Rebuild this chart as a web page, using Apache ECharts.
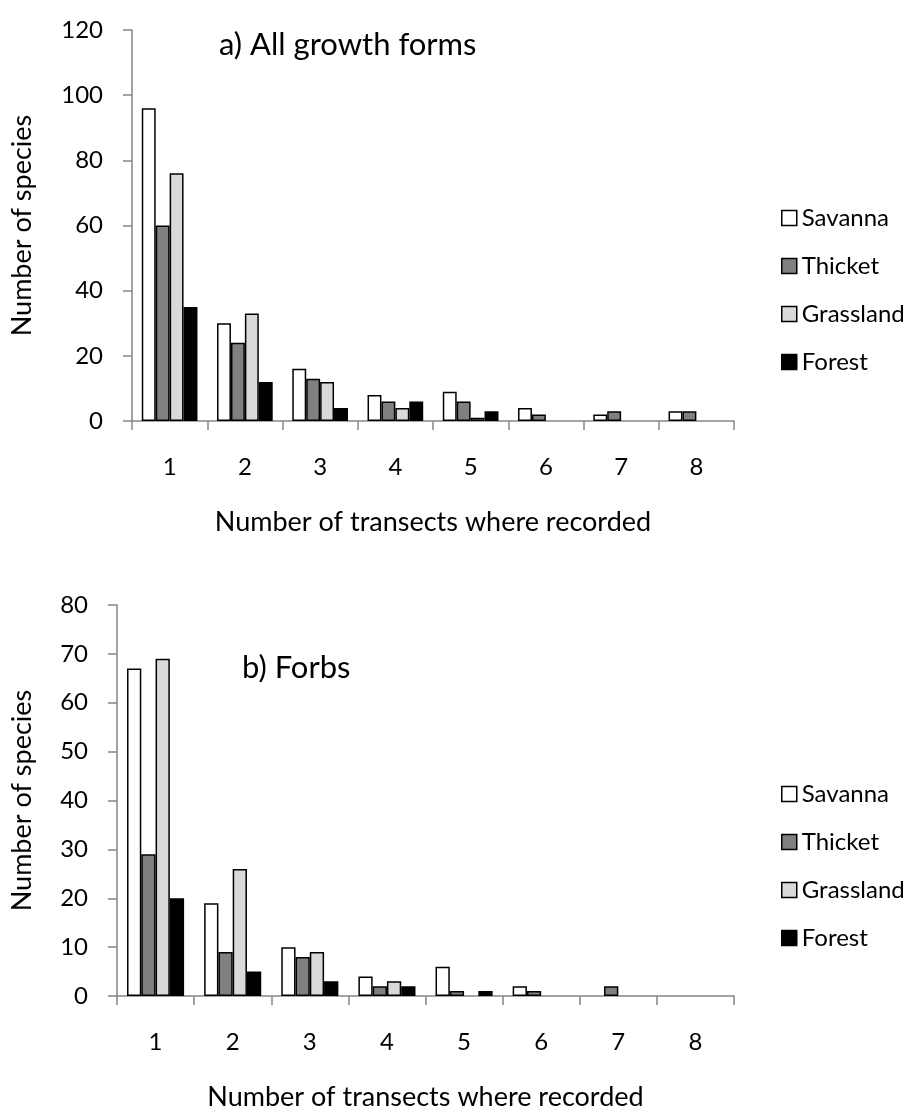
<!DOCTYPE html>
<html>
<head>
<meta charset="utf-8">
<script src="https://cdn.jsdelivr.net/npm/echarts@6/dist/echarts.min.js"></script>
<style>
  html, body { margin: 0; padding: 0; background: #fff; }
  #chart { width: 907px; height: 1112px; }
</style>
</head>
<body>
<div id="chart"></div>
<script>
// Number of transects in which a species was recorded
const categories = ['1', '2', '3', '4', '5', '6', '7', '8'];
const seriesNames = ['Savanna', 'Thicket', 'Grassland', 'Forest'];

// a) All growth forms — number of species per habitat
const allSavanna   = [96, 30, 16, 8, 9, 4, 2, 3];
const allThicket   = [60, 24, 13, 6, 6, 2, 3, 3];
const allGrassland = [76, 33, 12, 4, 1, 0, 0, 0];
const allForest    = [35, 12, 4, 6, 3, 0, 0, 0];

// b) Forbs — number of species per habitat
const forbSavanna   = [67, 19, 10, 4, 6, 2, 0, 0];
const forbThicket   = [29, 9, 8, 2, 1, 1, 2, 0];
const forbGrassland = [69, 26, 9, 3, 0, 0, 0, 0];
const forbForest    = [20, 5, 3, 2, 1, 0, 0, 0];

const topTicks = { min: 0, max: 120, interval: 20 };
const bottomTicks = { min: 0, max: 80, interval: 10 };

const fills = ['#ffffff', '#808080', '#d9d9d9', '#000000'];
const FONT = 'Lato, "Open Sans", sans-serif';
const AXIS_GREY = '#868686';

// Zero-height bars carry no outline so nothing is drawn along the axis
function barData(values) {
  return values.map(v => v === 0 ? { value: 0, itemStyle: { borderWidth: 0 } } : v);
}

function makeSeries(valuesList, gridIdx) {
  return valuesList.map((vals, i) => ({
    name: seriesNames[i],
    type: 'bar',
    xAxisIndex: gridIdx,
    yAxisIndex: gridIdx,
    barGap: '0%',
    barCategoryGap: '26%',
    itemStyle: { color: fills[i], borderColor: '#000', borderWidth: 1.5 },
    emphasis: { disabled: true },
    data: barData(vals)
  }));
}

function xAxisCfg(gridIdx) {
  return {
    type: 'category',
    gridIndex: gridIdx,
    data: categories,
    axisLine: { show: true, lineStyle: { color: AXIS_GREY, width: 1.5 } },
    axisTick: { show: true, length: 9, lineStyle: { color: AXIS_GREY, width: 1.5 } },
    axisLabel: { fontSize: 24, color: '#000', fontFamily: FONT, margin: 34 },
    name: 'Number of transects where recorded',
    nameLocation: 'middle',
    nameGap: 88,
    nameTextStyle: { fontSize: 27, color: '#000', fontFamily: FONT }
  };
}

function yAxisCfg(gridIdx, ticks, gap) {
  return {
    type: 'value',
    gridIndex: gridIdx,
    min: ticks.min,
    max: ticks.max,
    interval: ticks.interval,
    splitLine: { show: false },
    axisLine: { show: true, lineStyle: { color: AXIS_GREY, width: 1.5 } },
    axisTick: { show: true, length: 9, lineStyle: { color: AXIS_GREY, width: 1.5 } },
    axisLabel: { fontSize: 24, color: '#000', fontFamily: FONT, margin: 29 },
    name: 'Number of species',
    nameLocation: 'middle',
    nameGap: gap,
    nameTextStyle: { fontSize: 27, color: '#000', fontFamily: FONT }
  };
}

function legendCfg(top) {
  return {
    orient: 'vertical',
    left: 776,
    top: top,
    itemWidth: 15,
    itemHeight: 15,
    itemGap: 24,
    icon: 'rect',
    selectedMode: false,
    textStyle: { fontSize: 24, color: '#000', fontFamily: FONT, lineHeight: 24 },
    data: seriesNames.map((n, i) => ({
      name: n,
      itemStyle: { color: fills[i], borderColor: '#000', borderWidth: 1.5 }
    }))
  };
}

const chart = echarts.init(document.getElementById('chart'), null, { renderer: 'canvas' });
chart.setOption({
  animation: false,
  backgroundColor: '#fff',
  textStyle: { fontFamily: FONT },
  title: [
    { text: 'a) All growth forms', left: 214, top: 24,
      textStyle: { fontSize: 31, fontWeight: 'normal', color: '#000', fontFamily: FONT } },
    { text: 'b) Forbs', left: 237, top: 647,
      textStyle: { fontSize: 31, fontWeight: 'normal', color: '#000', fontFamily: FONT } }
  ],
  legend: [legendCfg(201), legendCfg(777)],
  grid: [
    { left: 132, right: 173, top: 30, height: 391 },
    { left: 117, right: 173, top: 605, height: 391 }
  ],
  xAxis: [xAxisCfg(0), xAxisCfg(1)],
  yAxis: [yAxisCfg(0, topTicks, 96), yAxisCfg(1, bottomTicks, 81)],
  series: [
    ...makeSeries([allSavanna, allThicket, allGrassland, allForest], 0),
    ...makeSeries([forbSavanna, forbThicket, forbGrassland, forbForest], 1)
  ]
});
</script>
</body>
</html>
